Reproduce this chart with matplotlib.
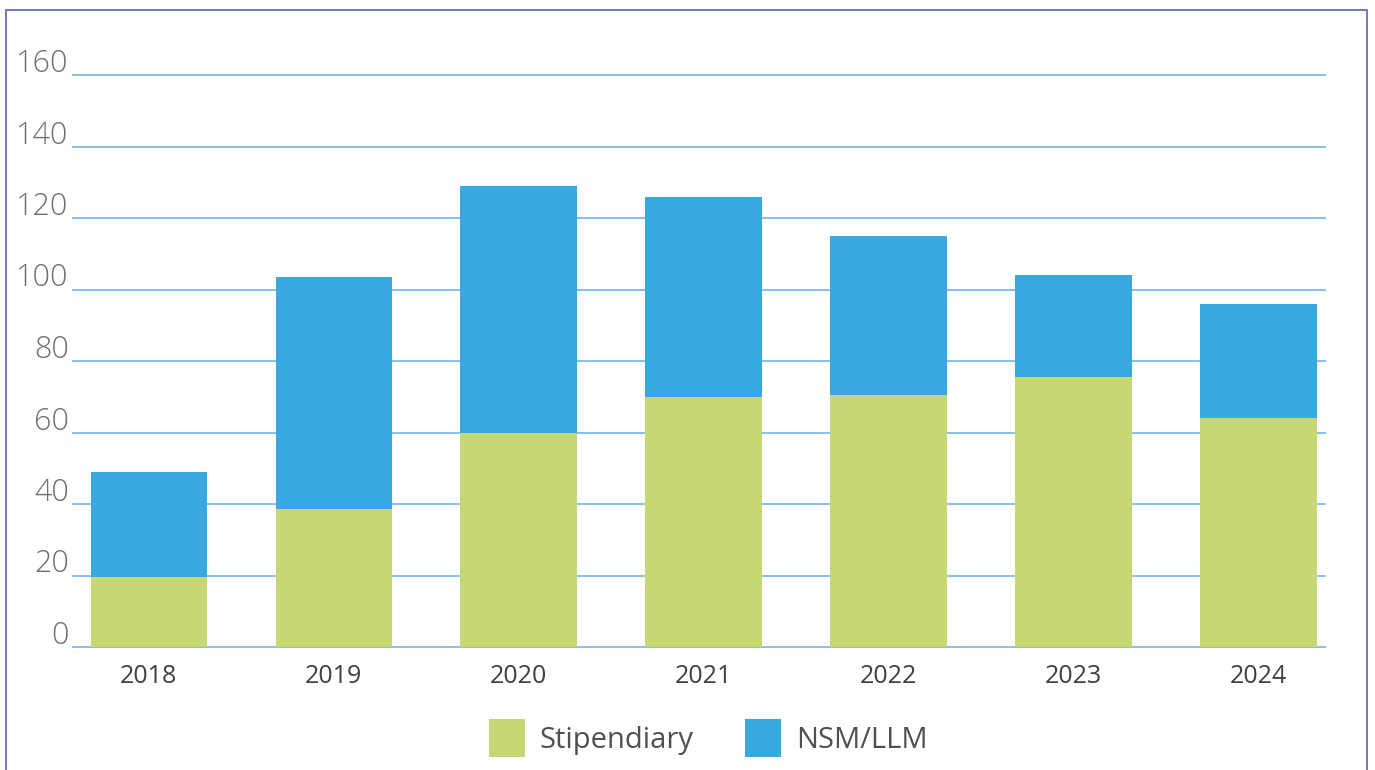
import matplotlib
matplotlib.use('Agg')
import matplotlib.pyplot as plt
import matplotlib.transforms as mtransforms
from matplotlib.patches import Rectangle
import numpy as np

years = ['2018', '2019', '2020', '2021', '2022', '2023', '2024']
stipendiary = [19.5, 38.5, 60, 70, 70.5, 75.5, 64]
nsm_llm = [29.5, 65, 69, 56, 44.5, 28.5, 32]

green = '#c5d873'
blue = '#39a8e0'
grid_col = '#7dbbe6'

plt.rcParams['font.family'] = ['Open Sans', 'DejaVu Sans']

fig = plt.figure(figsize=(13.75, 7.7), dpi=100)
ax = fig.add_axes([73/1375, 1 - 647/770, (1325-73)/1375, (647-75)/770])

x = np.arange(len(years))
ax.bar(x, stipendiary, width=0.63, color=green, label='Stipendiary', zorder=3)
ax.bar(x, nsm_llm, width=0.63, bottom=stipendiary, color=blue, label='NSM/LLM', zorder=3)

ax.set_ylim(0, 160)
ax.set_xlim(-0.41, 6.36)
ax.set_yticks(range(0, 161, 20))
ax.yaxis.grid(True, color=grid_col, linewidth=1.3, zorder=0)
for gl in ax.get_ygridlines():
    gl.set_clip_on(False)
ax.set_axisbelow(True)
for s in ax.spines.values():
    s.set_visible(False)
ax.tick_params(axis='both', length=0)
ax.tick_params(axis='y', pad=3, labelsize=22, labelcolor='#707070')
ax.tick_params(axis='x', pad=12, labelsize=18, labelcolor='#404040')
ax.set_xticks(x)
ax.set_xticklabels(years)
# labels sit just above their gridline
lift = mtransforms.ScaledTranslation(0, 3/100, fig.dpi_scale_trans)
for lab in ax.get_yticklabels():
    lab.set_fontweight('light')
    lab.set_verticalalignment('baseline')
    lab.set_transform(lab.get_transform() + lift)

leg = fig.legend(loc='center', bbox_to_anchor=(0.515, 1 - 738/770), ncol=2, frameon=False,
                 fontsize=21, handlelength=1.25, handleheight=1.6, columnspacing=1.75,
                 handletextpad=0.5)
for t in leg.get_texts():
    t.set_color('#505050')

# frame around the figure
fig.patches.append(Rectangle((6/1375, -0.05), (1367-6)/1375, 1.05 - 10/770,
                             transform=fig.transFigure, fill=False,
                             edgecolor='#5a64a8', linewidth=1.2))

fig.savefig('out.png', dpi=100, facecolor='white')
